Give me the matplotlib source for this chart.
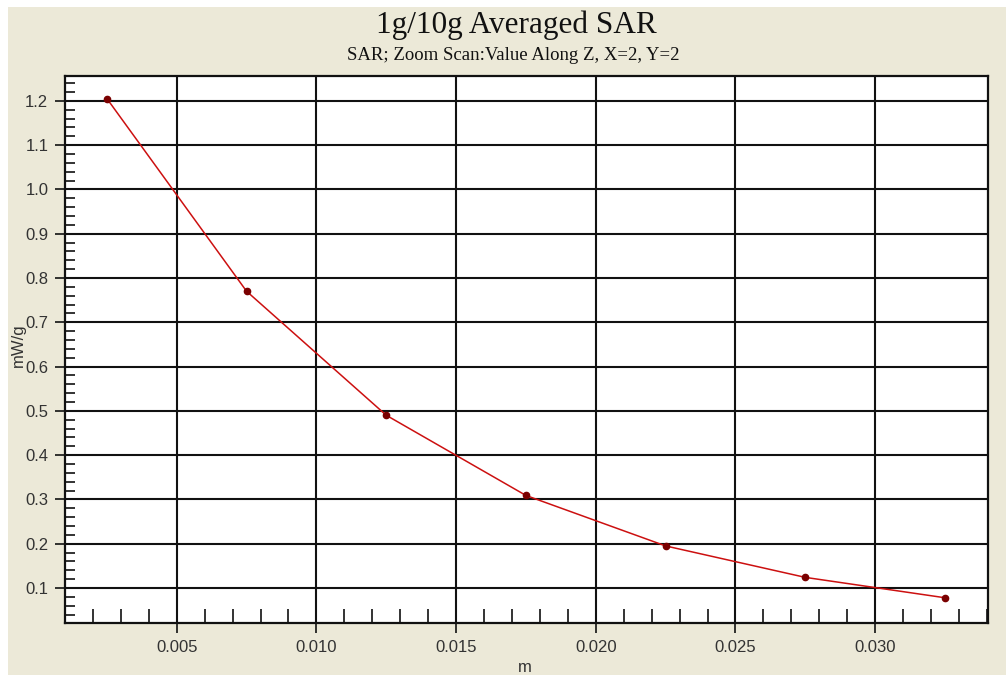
import matplotlib
matplotlib.use("Agg")
import matplotlib.pyplot as plt
from matplotlib.ticker import MultipleLocator, FormatStrFormatter
from matplotlib.patches import Rectangle

# values
depth_m = [0.0025, 0.0075, 0.0125, 0.0175, 0.0225, 0.0275, 0.0325]
sar_mw_g = [1.205, 0.770, 0.490, 0.309, 0.195, 0.124, 0.078]

x_ticks = [0.005, 0.010, 0.015, 0.020, 0.025, 0.030]
y_ticks = [0.1, 0.2, 0.3, 0.4, 0.5, 0.6, 0.7, 0.8, 0.9, 1.0, 1.1, 1.2]

title = "1g/10g Averaged SAR"
subtitle = "SAR; Zoom Scan:Value Along Z, X=2, Y=2"

W, H = 1006, 675
fig = plt.figure(figsize=(W / 100, H / 100), dpi=100)
fig.patch.set_facecolor("white")
# beige window panel behind everything
fig.patches.append(Rectangle((8 / W, 0), 1 - 8 / W, 1 - 7 / H, transform=fig.transFigure,
                             facecolor="#ECE9D8", edgecolor="none", zorder=-5))

ax = fig.add_axes([65 / W, 1 - 623 / H, (988 - 65) / W, (623 - 76) / H])
ax.set_zorder(2)
ax.set_facecolor("white")

ax.plot(depth_m, sar_mw_g, color="#cc1010", linewidth=1.1, zorder=3)
ax.plot(depth_m, sar_mw_g, linestyle="none", marker="o", markersize=4.5,
        color="#7a0000", zorder=4)

ax.set_xlim(0.0010, 0.03404)
ax.set_ylim(0.021, 1.256)

ax.set_xticks(x_ticks)
ax.set_yticks(y_ticks)
ax.xaxis.set_major_formatter(FormatStrFormatter("%.3f"))
ax.yaxis.set_major_formatter(FormatStrFormatter("%.1f"))
ax.xaxis.set_minor_locator(MultipleLocator(0.001))
ax.yaxis.set_minor_locator(MultipleLocator(0.02))

ax.grid(True, which="major", color="#111111", linewidth=1.5, zorder=1)
ax.set_axisbelow(True)
for s in ax.spines.values():
    s.set_color("#111111")
    s.set_linewidth(1.6)

ax.tick_params(which="major", direction="out", length=7, width=1.2, color="#111111",
               labelsize=12, labelcolor="#333333", pad=5)
ax.tick_params(which="minor", direction="in", width=1.2, color="#111111")
ax.tick_params(axis="x", which="minor", length=10)
ax.tick_params(axis="y", which="minor", length=7)
for lab in ax.get_xticklabels() + ax.get_yticklabels():
    lab.set_family(["Liberation Sans", "DejaVu Sans"])

fig.text(516 / W, 1 - 25 / H, title, ha="center", va="center",
         fontsize=22.5, family=["Liberation Serif", "DejaVu Serif"], color="#111111")
fig.text(513 / W, 1 - 56 / H, subtitle, ha="center", va="center",
         fontsize=13.5, family=["Liberation Serif", "DejaVu Serif"], color="#111111")

fig.text(525 / W, 1 - 668 / H, "m", ha="center", va="center", fontsize=12,
         family=["Liberation Sans", "DejaVu Sans"], color="#333333")
fig.text(18 / W, 1 - 345 / H, "mW/g", ha="center", va="center", rotation=90,
         fontsize=12, family=["Liberation Sans", "DejaVu Sans"], color="#333333")

fig.savefig("out.png", dpi=100, facecolor=fig.get_facecolor())
